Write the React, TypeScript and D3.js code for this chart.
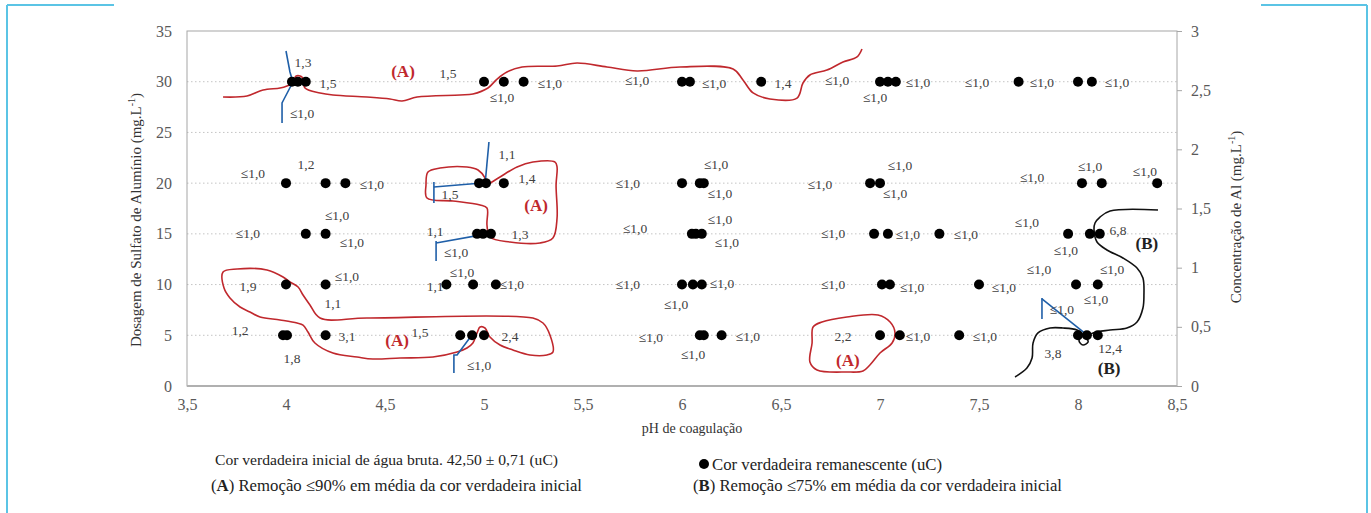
import { useRef, useEffect } from "react";
import {
  select,
  scaleLinear,
  axisLeft,
  axisBottom,
  axisRight,
  line,
  curveCatmullRom,
  curveCatmullRomClosed,
  curveLinear,
} from "d3";

type Pt = [number, number];
type Label = [number, number, string];

const xTicks = [3.5, 4, 4.5, 5, 5.5, 6, 6.5, 7, 7.5, 8, 8.5];
const yTicks = [0, 5, 10, 15, 20, 25, 30, 35];
const alTicks = [0, 0.5, 1, 1.5, 2, 2.5, 3];
const gridDoses = [5, 10, 15, 20, 25, 30];

// pH values of the dots for each dose
const doses = [30, 20, 15, 10, 5];
const ph30 = [4.03, 4.06, 4.1, 5.0, 5.1, 5.2, 6.0, 6.04, 6.4, 7.0, 7.04, 7.08, 7.7, 8.0, 8.07];
const ph20 = [4.0, 4.2, 4.3, 4.975, 5.01, 5.1, 6.0, 6.09, 6.11, 6.95, 7.0, 8.02, 8.12, 8.4];
const ph15 = [4.1, 4.2, 4.965, 4.995, 5.035, 6.05, 6.07, 6.1, 6.97, 7.04, 7.3, 7.95, 8.06, 8.11];
const ph10 = [4.0, 4.2, 4.81, 4.945, 5.06, 6.0, 6.055, 6.1, 7.01, 7.05, 7.5, 7.99, 8.1];
const ph5 = [3.985, 4.005, 4.2, 4.88, 4.94, 5.0, 6.09, 6.11, 6.2, 7.0, 7.1, 7.4, 8.0, 8.045, 8.1];
const phByDose = [ph30, ph20, ph15, ph10, ph5];

// remaining colour labels [pH, dose, text]
const valueLabels: Label[] = [
  [4.086, 31.94, "1,3"], [4.212, 29.87, "1,5"], [4.081, 26.92, "≤1,0"], [4.818, 30.86, "1,5"],
  [5.091, 28.49, "≤1,0"], [5.333, 29.87, "≤1,0"], [5.773, 30.17, "≤1,0"], [6.162, 29.87, "≤1,0"],
  [6.51, 29.87, "1,4"], [6.783, 30.17, "≤1,0"], [6.975, 28.49, "≤1,0"], [7.192, 29.97, "≤1,0"],
  [7.49, 29.97, "≤1,0"], [7.818, 29.97, "≤1,0"], [8.197, 29.97, "≤1,0"],

  [3.833, 21.0, "≤1,0"], [4.101, 21.89, "1,2"], [4.434, 19.92, "≤1,0"], [4.828, 18.93, "1,5"],
  [5.116, 22.87, "1,1"], [5.217, 20.51, "1,4"], [5.727, 20.01, "≤1,0"], [6.172, 21.89, "≤1,0"],
  [6.192, 19.03, "≤1,0"], [6.697, 19.92, "≤1,0"], [7.101, 21.79, "≤1,0"], [7.076, 19.03, "≤1,0"],
  [7.768, 20.61, "≤1,0"], [8.061, 21.69, "≤1,0"], [8.338, 21.2, "≤1,0"],

  [3.808, 15.08, "≤1,0"], [4.258, 16.86, "≤1,0"], [4.333, 14.2, "≤1,0"], [4.753, 15.28, "1,1"],
  [4.859, 13.21, "≤1,0"], [5.182, 14.99, "1,3"], [5.763, 15.58, "≤1,0"], [6.192, 16.46, "≤1,0"],
  [6.227, 14.2, "≤1,0"], [6.763, 15.08, "≤1,0"], [7.141, 14.99, "≤1,0"], [7.434, 14.99, "≤1,0"],
  [7.742, 16.17, "≤1,0"], [7.939, 13.41, "≤1,0"], [8.202, 15.38, "6,8"],

  [3.808, 9.86, "1,9"], [4.308, 10.84, "≤1,0"], [4.237, 8.18, "1,1"], [4.753, 9.86, "1,1"],
  [4.889, 11.24, "≤1,0"], [5.141, 10.06, "≤1,0"], [5.727, 10.06, "≤1,0"], [5.97, 8.08, "≤1,0"],
  [6.202, 10.15, "≤1,0"], [6.763, 10.06, "≤1,0"], [7.162, 9.76, "≤1,0"], [7.626, 9.76, "≤1,0"],
  [7.803, 11.54, "≤1,0"], [8.172, 11.54, "≤1,0"], [8.091, 8.58, "≤1,0"], [7.919, 7.59, "≤1,0"],

  [3.768, 5.52, "1,2"], [4.03, 2.76, "1,8"], [4.308, 4.93, "3,1"], [4.677, 5.32, "1,5"],
  [5.131, 4.93, "2,4"], [4.975, 2.07, "≤1,0"], [5.843, 4.83, "≤1,0"], [6.056, 3.15, "≤1,0"],
  [6.333, 4.93, "≤1,0"], [6.813, 4.93, "2,2"], [7.192, 4.93, "≤1,0"], [7.53, 4.93, "≤1,0"],
  [7.874, 3.25, "3,8"], [8.162, 3.75, "12,4"],
];

const markA: Label[] = [
  [4.591, 31.06, "(A)"], [5.263, 17.84, "(A)"], [4.561, 4.54, "(A)"], [6.838, 2.56, "(A)"],
];
const markB: Label[] = [[8.348, 14.1, "(B)"], [8.157, 1.77, "(B)"]];

// hand-drawn region outlines [pH, dose]
const redTop: Pt[] = [
  [3.682, 28.49], [3.803, 28.59], [3.884, 29.18], [3.97, 29.38], [4.005, 29.58], [4.035, 29.87],
  [4.051, 30.56], [4.081, 30.46], [4.096, 29.38], [4.172, 28.89], [4.237, 28.69], [4.409, 28.49],
  [4.525, 28.3], [4.586, 28.1], [4.662, 28.49], [4.879, 28.69], [4.944, 28.79], [5.02, 29.38],
  [5.066, 30.26], [5.116, 30.96], [5.192, 31.45], [5.369, 31.55], [5.47, 31.84], [5.621, 31.45],
  [5.773, 31.06], [5.99, 31.45], [6.258, 31.25], [6.308, 30.17], [6.359, 28.89], [6.444, 28.3],
  [6.581, 28.39], [6.611, 29.87], [6.646, 30.66], [6.732, 31.15], [6.813, 31.94], [6.884, 32.44],
  [6.909, 33.22],
];
const redMid: Pt[] = [
  [4.717, 21.1], [4.778, 21.49], [4.914, 21.59], [4.97, 21.3], [5.005, 20.51], [5.015, 19.82],
  [5.04, 20.11], [5.081, 20.61], [5.167, 21.59], [5.247, 22.08], [5.359, 22.08], [5.369, 21.59],
  [5.364, 19.82], [5.369, 16.56], [5.348, 14.59], [5.283, 14.1], [5.131, 14.2], [5.03, 14.69],
  [5.015, 15.87], [5.015, 17.55], [4.98, 17.84], [4.843, 18.24], [4.712, 18.53], [4.707, 19.82],
];
const redLow: Pt[] = [
  [3.682, 11.24], [3.753, 11.54], [3.904, 11.44], [3.985, 10.75], [4.02, 10.25], [4.061, 9.76],
  [4.086, 8.97], [4.121, 7.99], [4.172, 6.7], [4.409, 6.7], [5.247, 6.7], [5.298, 6.21],
  [5.333, 5.03], [5.348, 3.35], [5.318, 3.06], [5.232, 3.06], [5.146, 3.55], [5.081, 4.04],
  [5.03, 4.83], [5.005, 5.72], [4.98, 5.82], [4.965, 5.23], [4.944, 4.24], [4.914, 3.75],
  [4.864, 3.35], [4.742, 2.86], [4.576, 2.76], [4.439, 2.66], [4.359, 2.86], [4.237, 3.25],
  [4.146, 4.24], [4.111, 5.32], [4.086, 6.01], [4.056, 6.21], [3.97, 6.51], [3.869, 6.8],
  [3.818, 7.3], [3.768, 7.79], [3.717, 8.68], [3.687, 9.66],
];
const redRight: Pt[] = [
  [6.662, 5.82], [6.707, 6.31], [6.833, 6.8], [6.99, 7.0], [7.051, 6.31], [7.076, 5.23],
  [7.061, 4.24], [7.0, 3.25], [6.949, 2.07], [6.914, 1.48], [6.833, 1.38], [6.682, 1.58],
  [6.646, 2.37], [6.657, 4.24],
];
const blackB: Pt[] = [
  [8.404, 17.35], [8.162, 17.25], [8.111, 16.66], [8.086, 16.07], [8.081, 15.38], [8.096, 14.2],
  [8.146, 13.41], [8.227, 12.62], [8.298, 11.63], [8.328, 10.65], [8.333, 8.97], [8.328, 7.69],
  [8.298, 6.31], [8.247, 5.72], [8.162, 5.52], [8.076, 5.23], [8.045, 4.83], [8.051, 4.34],
  [8.025, 4.04], [8.005, 4.44], [8.02, 5.13], [7.995, 5.52], [7.924, 5.72], [7.859, 5.72],
  [7.798, 5.23], [7.773, 4.24], [7.768, 2.76], [7.742, 1.77], [7.682, 0.89],
];
const blueLines: Pt[][] = [
  [[4.0, 33.03], [4.02, 30.96], [4.035, 29.97], [3.985, 28.1], [3.98, 27.9], [3.98, 25.93]],
  [[5.025, 24.06], [5.005, 19.82]],
  [[4.747, 20.11], [4.747, 18.04]],
  [[4.747, 19.62], [4.99, 20.01]],
  [[4.758, 14.3], [4.758, 12.32]],
  [[4.758, 14.1], [5.015, 15.0]],
  [[4.939, 5.03], [4.864, 3.06], [4.848, 3.06], [4.848, 1.28]],
  [[7.818, 8.68], [7.818, 6.6]],
  [[7.818, 8.58], [8.045, 5.03]],
];

const serif = "'Liberation Serif', 'Times New Roman', serif";
const red = "#c0282d";
const blue = "#1f5fa8";
const fmt = (d: any) => String(d).replace(".", ",");

function Chart() {
  const svgRef = useRef<SVGSVGElement | null>(null);
  const width = 1371;
  const height = 513;

  useEffect(() => {
    if (!svgRef.current) return;
    const svg = select(svgRef.current);
    svg.selectAll("*").remove();

    const x = scaleLinear().domain([3.5, 8.5]).range([187, 1177]);
    const y = scaleLinear().domain([0, 35]).range([386, 31]);
    const yAl = scaleLinear().domain([0, 3]).range([386, 31]);

    // light blue frame pieces
    const frame = "#5bc4e5";
    [
      [7, 5, 114, 5], [7, 5, 7, 513], [1261, 5, 1367, 5], [1367, 5, 1367, 513],
    ].forEach(([x1, y1, x2, y2]) =>
      svg.append("line").attr("x1", x1).attr("y1", y1).attr("x2", x2).attr("y2", y2)
        .attr("stroke", frame).attr("stroke-width", 2)
    );

    // dotted gridlines
    svg.append("g").selectAll("line").data(gridDoses).join("line")
      .attr("x1", x(3.5)).attr("x2", x(8.5))
      .attr("y1", (d) => y(d)).attr("y2", (d) => y(d))
      .attr("stroke", "#c4c4c4").attr("stroke-dasharray", "1.5,2.5");

    // plot border
    svg.append("rect")
      .attr("x", x(3.5)).attr("y", y(35))
      .attr("width", x(8.5) - x(3.5)).attr("height", y(0) - y(35))
      .attr("fill", "none").attr("stroke", "#a6a6a6");
    svg.append("line").attr("x1", x(3.5)).attr("x2", x(8.5)).attr("y1", y(0)).attr("y2", y(0))
      .attr("stroke", "#b0b0b0").attr("stroke-width", 2);

    const styleAxis = (g: any) => {
      g.select(".domain").remove();
      g.selectAll("text").attr("font-family", serif).attr("font-size", 16).attr("fill", "#595959");
      g.selectAll(".tick line").attr("stroke", "#a6a6a6");
    };

    svg.append("g").attr("transform", `translate(${x(3.5)},0)`)
      .call(axisLeft(y).tickValues(yTicks).tickSize(0).tickPadding(15).tickFormat(fmt))
      .call(styleAxis);
    svg.append("g").attr("transform", `translate(0,${y(0)})`)
      .call(axisBottom(x).tickValues(xTicks).tickSize(0).tickPadding(13).tickFormat(fmt))
      .call(styleAxis);
    svg.append("g").attr("transform", `translate(${x(8.5)},0)`)
      .call(axisRight(yAl).tickValues(alTicks).tickSize(5).tickPadding(9).tickFormat(fmt))
      .call(styleAxis);

    // axis titles
    svg.append("text").attr("x", 692).attr("y", 433).attr("text-anchor", "middle")
      .attr("font-family", serif).attr("font-size", 14).attr("fill", "#333").text("pH de coagulação");

    const leftTitle = svg.append("text")
      .attr("transform", "translate(141,220) rotate(-90)").attr("text-anchor", "middle")
      .attr("font-family", serif).attr("font-size", 15).attr("fill", "#333");
    leftTitle.append("tspan").text("Dosagem de Sulfato de Alumínio  (mg.L");
    leftTitle.append("tspan").attr("font-size", 10).attr("dy", -6).text("-1");
    leftTitle.append("tspan").attr("dy", 6).text(")");

    const rightTitle = svg.append("text")
      .attr("transform", "translate(1241,217) rotate(-90)").attr("text-anchor", "middle")
      .attr("font-family", serif).attr("font-size", 15).attr("fill", "#333");
    rightTitle.append("tspan").text("Concentração de Al (mg.L");
    rightTitle.append("tspan").attr("font-size", 10).attr("dy", -6).text("-1");
    rightTitle.append("tspan").attr("dy", 6).text(")");

    // annotation curves
    const path = line<Pt>().x((d) => x(d[0])).y((d) => y(d[1]));
    svg.append("path").attr("d", path.curve(curveCatmullRom)(redTop))
      .attr("fill", "none").attr("stroke", red).attr("stroke-width", 1.6);
    [redMid, redLow, redRight].forEach((pts) =>
      svg.append("path").attr("d", path.curve(curveCatmullRomClosed)(pts))
        .attr("fill", "none").attr("stroke", red).attr("stroke-width", 1.6)
    );
    svg.append("path").attr("d", path.curve(curveCatmullRom)(blackB))
      .attr("fill", "none").attr("stroke", "#111").attr("stroke-width", 1.6);
    blueLines.forEach((pts) =>
      svg.append("path").attr("d", path.curve(curveLinear)(pts))
        .attr("fill", "none").attr("stroke", blue).attr("stroke-width", 1.6)
    );

    // dots
    const dots = phByDose.flatMap((phs, i) => phs.map((p) => [p, doses[i]] as Pt));
    svg.append("g").selectAll("circle").data(dots).join("circle")
      .attr("cx", (d) => x(d[0])).attr("cy", (d) => y(d[1])).attr("r", 5).attr("fill", "#000");

    // value labels
    svg.append("g").selectAll("text").data(valueLabels).join("text")
      .attr("x", (d) => x(d[0])).attr("y", (d) => y(d[1]))
      .attr("dy", "0.35em").attr("text-anchor", "middle")
      .attr("font-family", serif).attr("font-size", 13.5).attr("fill", "#404040")
      .text((d) => d[2]);

    svg.append("g").selectAll("text").data(markA).join("text")
      .attr("x", (d) => x(d[0])).attr("y", (d) => y(d[1]))
      .attr("dy", "0.35em").attr("text-anchor", "middle")
      .attr("font-family", serif).attr("font-size", 17).attr("font-weight", "bold").attr("fill", red)
      .text((d) => d[2]);
    svg.append("g").selectAll("text").data(markB).join("text")
      .attr("x", (d) => x(d[0])).attr("y", (d) => y(d[1]))
      .attr("dy", "0.35em").attr("text-anchor", "middle")
      .attr("font-family", serif).attr("font-size", 17).attr("font-weight", "bold").attr("fill", "#222")
      .text((d) => d[2]);

    // legend
    const leg = svg.append("g").attr("font-family", serif).attr("fill", "#222");
    leg.append("text").attr("x", 215).attr("y", 465).attr("font-size", 15.5)
      .attr("textLength", 343).attr("lengthAdjust", "spacingAndGlyphs")
      .text("Cor verdadeira inicial de água bruta. 42,50 ± 0,71 (uC)");
    const la = leg.append("text").attr("x", 211).attr("y", 491).attr("font-size", 16.5)
      .attr("textLength", 371).attr("lengthAdjust", "spacingAndGlyphs");
    la.append("tspan").text("(");
    la.append("tspan").attr("font-weight", "bold").text("A");
    la.append("tspan").text(") Remoção ≤90% em média da cor verdadeira inicial");
    leg.append("circle").attr("cx", 704).attr("cy", 464).attr("r", 5).attr("fill", "#000");
    leg.append("text").attr("x", 712).attr("y", 470).attr("font-size", 16.5)
      .attr("textLength", 230).attr("lengthAdjust", "spacingAndGlyphs")
      .text("Cor verdadeira remanescente (uC)");
    const lb = leg.append("text").attr("x", 693).attr("y", 491).attr("font-size", 16.5)
      .attr("textLength", 369).attr("lengthAdjust", "spacingAndGlyphs");
    lb.append("tspan").text("(");
    lb.append("tspan").attr("font-weight", "bold").text("B");
    lb.append("tspan").text(") Remoção ≤75% em média da cor verdadeira inicial");
  }, []);

  return (
    <div style={{ position: "absolute", left: 0, top: 0 }}>
      <svg ref={svgRef} width={width} height={height} viewBox={`0 0 ${width} ${height}`}
        style={{ display: "block", background: "#fff" }} />
    </div>
  );
}

export default function App() {
  return <Chart />;
}
